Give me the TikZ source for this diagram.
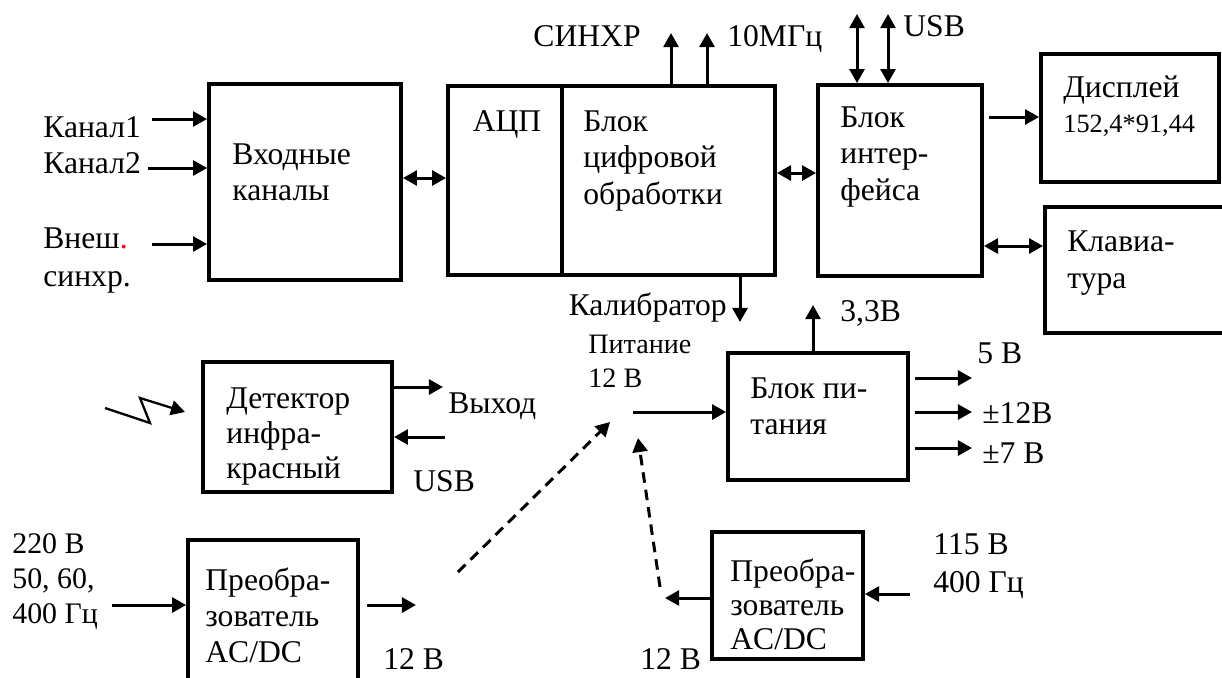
\documentclass[tikz,border=0pt]{standalone}
\usepackage{fontspec}
\setmainfont{Liberation Serif}
\usetikzlibrary{arrows.meta,fit}

\begin{document}
\begin{tikzpicture}[x=0.02cm,y=-0.02cm,
    blok/.style={draw,line width=2.2pt,inner sep=0pt},
    txt/.style={inner sep=0pt,align=left,font=\fontsize{18}{21}\selectfont},
    strel/.style={line width=1.7pt,-{Triangle[length=8pt,width=8.5pt]}},
    dvstrel/.style={line width=1.7pt,{Triangle[length=8pt,width=8.5pt]}-{Triangle[length=8pt,width=8.5pt]}},
    punktir/.style={strel,dash pattern=on 6pt off 4pt}]
    \useasboundingbox (0,0) rectangle (1222,677);
    \clip (0,0) rectangle (1222,677);

    % входные каналы
    \node[blok,fit={(209,84)(401,280)}] (vhod) {};
    \node[txt,anchor=north west] (vhodt) at (232,143) {Входные\\каналы};
    \node[txt,anchor=north west] (kan1) at (43,116) {Канал1};
    \node[txt,anchor=north west] (kan2) at (43,152) {Канал2};
    \node[txt,anchor=north west,font=\fontsize{18}{22}\selectfont] (vnesh) at (43,227) {Внеш\textcolor{red}{.}\\синхр.};
    \coordinate (k1) at (152,119);
    \coordinate (k2) at (148,168);
    \coordinate (k3) at (152,244);
    \foreach \p in {k1,k2,k3}
        \draw[strel] (\p) -- (\p -| vhod.west);

    % АЦП и блок цифровой обработки
    \node[blok,fit={(448,86)(775,275)}] (adc) {};
    \coordinate (razd) at (562,0);
    \draw[line width=2.2pt] (razd |- adc.north) -- (razd |- adc.south);
    \node[txt,anchor=north] (acpt) at (507,110) {АЦП};
    \node[txt,anchor=north west] (cifrt) at (583,110) {Блок\\цифровой\\обработки};
    \coordinate (sv1) at (0,178);
    \draw[dvstrel] (sv1 -| vhod.east) -- (sv1 -| adc.west);
    \coordinate (sinhr) at (671,33);
    \coordinate (mhz) at (707,33);
    \foreach \p in {sinhr,mhz}
        \draw[strel] (\p |- adc.north) -- (\p);
    \node[txt,anchor=north] (sinhrt) at (587,25) {СИНХР};
    \node[txt,anchor=north west] (mhzt) at (727,25) {10МГц};

    % блок интерфейса
    \node[blok,fit={(818,85)(982,276)}] (interf) {};
    \node[txt,anchor=north west] (interft) at (840,106) {Блок\\интер-\\фейса};
    \coordinate (sv2) at (0,173);
    \draw[dvstrel] (sv2 -| adc.east) -- (sv2 -| interf.west);
    \coordinate (usb1) at (857,14);
    \coordinate (usb2) at (888,14);
    \foreach \p in {usb1,usb2}
        \draw[dvstrel] (\p) -- (\p |- interf.north);
    \node[txt,anchor=north west] (usbt) at (903,15) {USB};

    % дисплей и клавиатура
    \node[blok,fit={(1041,54)(1219,182)}] (displ) {};
    \node[txt,anchor=north west,font=\fontsize{18}{20}\selectfont] (displt) at (1063,75) {Дисплей\\{\fontsize{15}{18}\selectfont 152,4*91,44}};
    \coordinate (sv3) at (0,117);
    \draw[strel,shorten <=3pt] (sv3 -| interf.east) -- (sv3 -| displ.west);
    \node[blok,fit={(1045,207)(1232,333)}] (klav) {};
    \node[txt,anchor=north west,font=\fontsize{18}{21.5}\selectfont] (klavt) at (1067,230) {Клавиа-\\тура};
    \coordinate (sv4) at (0,246);
    \draw[dvstrel] (sv4 -| interf.east) -- (sv4 -| klav.west);

    % блок питания
    \node[blok,fit={(728,353)(908,480)}] (pitan) {};
    \node[txt,anchor=north west] (pitant) at (750,377) {Блок пи-\\тания};
    \coordinate (kal) at (740,322);
    \draw[strel] (kal |- adc.south) -- (kal);
    \node[txt,anchor=north east] (kalt) at (727,292) {Калибратор};
    \coordinate (v33) at (813,305);
    \draw[strel] (v33 |- pitan.north) -- (v33);
    \node[txt,anchor=north west] (v33t) at (840,300) {3,3В};
    \node[txt,anchor=north west,font=\fontsize{16}{19}\selectfont] (pitvh) at (588,335) {Питание\\12 В};
    \coordinate (pvh) at (633,412);
    \draw[strel] (pvh) -- (pvh -| pitan.west);
    \coordinate (o5) at (972,378);
    \coordinate (o12) at (972,412);
    \coordinate (o7) at (972,448);
    \foreach \p in {o5,o12,o7}
        \draw[strel,shorten <=3pt] (\p -| pitan.east) -- (\p);
    \node[txt,anchor=north west] (o5t) at (977,342) {5 В};
    \node[txt,anchor=north west] (o12t) at (982,402) {±12В};
    \node[txt,anchor=north west] (o7t) at (982,442) {±7 В};

    % детектор
    \node[blok,fit={(203,362)(392,492)}] (detek) {};
    \node[txt,anchor=north west,font=\fontsize{18}{20}\selectfont] (detekt) at (226,387) {Детектор\\инфра-\\красный};
    \coordinate (vyh) at (443,387);
    \draw[strel] (vyh -| detek.east) -- (vyh);
    \node[txt,anchor=north west] (vyht) at (448,392) {Выход};
    \coordinate (usbv) at (445,437);
    \draw[strel] (usbv) -- (usbv -| detek.east);
    \node[txt,anchor=north west] (usbvt) at (413,470) {USB};
    \draw[strel,line width=1.3pt] (105,408) -- (150,423) -- (140,398) -- (185,412);

    % преобразователь 220 В
    \node[blok,fit={(188,540)(358,700)}] (preob1) {};
    \node[txt,anchor=north west,font=\fontsize{18}{20.5}\selectfont] (preob1t) at (205,567) {Преобра-\\зователь\\AC/DC};
    \coordinate (s220) at (112,605);
    \draw[strel] (s220) -- (s220 -| preob1.west);
    \node[txt,anchor=north west,font=\fontsize{17}{20}\selectfont] (s220t) at (12,533) {220 В\\50, 60,\\400 Гц};
    \coordinate (vyh1) at (416,605);
    \draw[strel,shorten <=4pt] (vyh1 -| preob1.east) -- (vyh1);
    \node[txt,anchor=north west] (vyh1t) at (383,648) {12 В};

    % преобразователь 115 В
    \node[blok,fit={(712,532)(863,659)}] (preob2) {};
    \node[txt,anchor=north west,font=\fontsize{18}{19.5}\selectfont] (preob2t) at (730,558) {Преобра-\\зователь\\AC/DC};
    \coordinate (vyh2) at (665,598);
    \draw[strel] (vyh2 -| preob2.west) -- (vyh2);
    \coordinate (s115) at (910,594);
    \draw[strel] (s115) -- (s115 -| preob2.east);
    \node[txt,anchor=north west,font=\fontsize{18}{22}\selectfont] (s115t) at (933,533) {115 В\\400 Гц};
    \node[txt,anchor=north west] (vyh2t) at (640,648) {12 В};

    % резервное питание 12 В
    \coordinate (p1a) at (458,572);
    \coordinate (p1b) at (610,422);
    \draw[punktir] (p1a) -- (p1b);
    \coordinate (p2a) at (660,587);
    \coordinate (p2b) at (638,438);
    \draw[punktir] (p2a) -- (p2b);
\end{tikzpicture}
\end{document}
